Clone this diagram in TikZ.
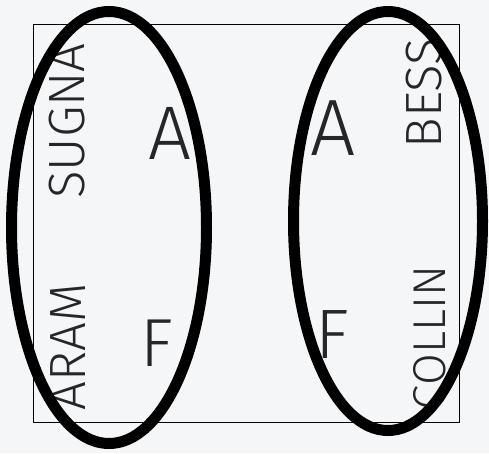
\documentclass[tikz,border=0pt]{standalone}
\usepackage{fontspec}
\setmainfont{Fira Sans Light}
\usepackage{graphicx}
\usetikzlibrary{shapes.geometric}
\newcommand\rl[1]{\rotatebox{90}{#1}}
\newcommand\downstack[1]{\vbox{\offinterlineskip\halign{\hfil##\hfil\cr#1}}}
\definecolor{paper}{HTML}{F5F6F8}
\definecolor{ink}{HTML}{262626}
\begin{document}
\begin{tikzpicture}[x=1pt,y=-1pt,
  framebox/.style={draw=black,line width=1.3pt,inner sep=0pt},
  ring/.style={draw=black,line width=11pt,ellipse,inner sep=0pt},
  bigletter/.style={font=\fontsize{76}{80}\selectfont,text=ink,inner sep=0pt},
  person/.style={font=\fontsize{51}{55}\selectfont,text=ink,inner sep=0pt}]
\useasboundingbox[fill=paper] (0,0) rectangle (489,453);
\node[framebox,minimum width=426pt,minimum height=398pt] (box) at (246.5,223.5) {};
% letters
\node[bigletter] (aL) at (170,133) {A};
\node[bigletter,font=\fontsize{68}{72}\selectfont] (fL) at (157,343) {F};
\node[bigletter,font=\fontsize{80}{84}\selectfont] (aR) at (333,128) {A};
\node[bigletter,font=\fontsize{70}{74}\selectfont] (fR) at (332,335) {F};
% names
\node[person] (angus) at (67,121) {\downstack{\rl{A}\cr\rl{N}\cr\rl{G}\cr\rl{U}\cr\rl{S}\cr}};
\node[person] (mara) at (68,347) {\downstack{\rl{M}\cr\rl{A}\cr\rl{R}\cr\rl{A}\cr}};
\node[person,rotate=90] (bess) at (424,93) {BESS};
\node[person,rotate=90,font=\fontsize{46}{50}\selectfont] (collin) at (430,338) {COLLIN};
% groups
\node[ring,minimum width=195pt,minimum height=432pt] (left) at (109,227.5) {};
\node[ring,minimum width=189pt,minimum height=419pt] (right) at (388,221) {};
\end{tikzpicture}
\end{document}
